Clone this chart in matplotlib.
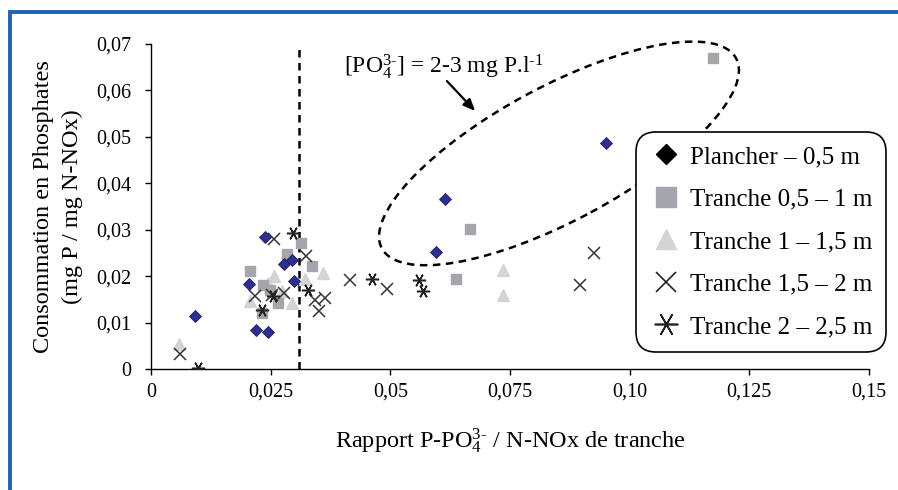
import matplotlib
matplotlib.use("Agg")
import matplotlib.pyplot as plt
from matplotlib.lines import Line2D
from matplotlib.patches import Ellipse, Rectangle
from matplotlib.ticker import FixedLocator

plt.rcParams['font.family'] = ['Liberation Serif', 'DejaVu Serif']
plt.rcParams['mathtext.default'] = 'regular'

# ---- data ----
plancher_x = [0.0092, 0.0204, 0.0219, 0.0238, 0.0244, 0.0277, 0.0294, 0.0299, 0.0596, 0.0615, 0.0951]
plancher_y = [0.0115, 0.0183, 0.0083, 0.0284, 0.0079, 0.0227, 0.0235, 0.0189, 0.0253, 0.0367, 0.0486]

t05_x = [0.0206, 0.0232, 0.0235, 0.0249, 0.0266, 0.0284, 0.0314, 0.0336, 0.0638, 0.0666, 0.1175]
t05_y = [0.0211, 0.0121, 0.0182, 0.0171, 0.0142, 0.0247, 0.0272, 0.0221, 0.0194, 0.0302, 0.0669]

t1_x = [0.0059, 0.0207, 0.0245, 0.0256, 0.0274, 0.0294, 0.0322, 0.0359, 0.0736, 0.0736]
t1_y = [0.0054, 0.0146, 0.0186, 0.0200, 0.0167, 0.0142, 0.0193, 0.0207, 0.0213, 0.0160]

t15_x = [0.0061, 0.0218, 0.0253, 0.0256, 0.0277, 0.0324, 0.0343, 0.0350, 0.0364, 0.0416, 0.0493, 0.0896, 0.0925]
t15_y = [0.0032, 0.0157, 0.0160, 0.0279, 0.0164, 0.0243, 0.0149, 0.0126, 0.0152, 0.0191, 0.0173, 0.0182, 0.0250]

t2_x = [0.0098, 0.0232, 0.0255, 0.0296, 0.0328, 0.0462, 0.0559, 0.0568]
t2_y = [0.0002, 0.0128, 0.0158, 0.0294, 0.0171, 0.0193, 0.0191, 0.0167]

labels = ["Plancher – 0,5 m", "Tranche 0,5 – 1 m", "Tranche 1 – 1,5 m",
          "Tranche 1,5 – 2 m", "Tranche 2 – 2,5 m"]
x_ticks = [0, 0.025, 0.05, 0.075, 0.10, 0.125, 0.15]
x_ticklabels = ["0", "0,025", "0,05", "0,075", "0,10", "0,125", "0,15"]
y_ticks = [0, 0.01, 0.02, 0.03, 0.04, 0.05, 0.06, 0.07]
y_ticklabels = ["0", "0,01", "0,02", "0,03", "0,04", "0,05", "0,06", "0,07"]
threshold_x = 0.031

W, H = 898, 490
fig = plt.figure(figsize=(W / 100, H / 100), dpi=100)
ax = fig.add_axes([151 / W, 1 - 369 / H, (869 - 151) / W, (369 - 44) / H])

navy = '#2e308f'
sq_col = '#a4a6ac'
tri_col = '#d3d4d6'

ax.plot(t1_x, t1_y, linestyle='none', marker='^', ms=8.5, color=tri_col, mec=tri_col, zorder=3)
ax.plot(t05_x, t05_y, linestyle='none', marker='s', ms=7, color=sq_col, mec=sq_col, zorder=3)
ax.plot(t15_x, t15_y, linestyle='none', marker='x', ms=8.5, mew=1.1, color='#333333', zorder=4)
ax.plot(t2_x, t2_y, linestyle='none', marker=(6, 2, 90), ms=9.5, mew=1.1, color='#222222', zorder=4)
ax.plot(plancher_x, plancher_y, linestyle='none', marker='D', ms=5.8, color=navy, mec='#1c1d5e', mew=0.6, zorder=5)

ax.plot([threshold_x, threshold_x], [0, 0.07], linestyle=(0, (3, 2.2)), color='black', lw=1.8, zorder=2)

ax.set_xlim(0, 0.15)
ax.set_ylim(0, 0.07)
ax.xaxis.set_major_locator(FixedLocator(x_ticks))
ax.yaxis.set_major_locator(FixedLocator(y_ticks))
ax.set_xticklabels(x_ticklabels)
ax.set_yticklabels(y_ticklabels)
for s in ['top', 'right']:
    ax.spines[s].set_visible(False)
for s in ['left', 'bottom']:
    ax.spines[s].set_linewidth(1.0)
ax.tick_params(axis='both', direction='out', length=4, width=1, labelsize=14.5)
ax.tick_params(axis='y', pad=10)
ax.tick_params(axis='x', pad=6)

ax.set_xlabel("Rapport P-PO$_4^{3\u2010}$ / N-NOx de tranche", fontsize=17.5, labelpad=18)
ax.set_ylabel("Consommation en Phosphates\n(mg P / mg N-NOx)", fontsize=17.5, labelpad=10, linespacing=1.45)

# annotation
fig.text(344 / W, 1 - 73 / H, "[PO$_4^{3\u2010}$] = 2-3 mg P.l$^{\u20101}$", fontsize=17, ha='left', va='baseline')
ax.annotate("", xy=(477, H - 113), xycoords='figure pixels', xytext=(445, H - 79), textcoords='figure pixels',
            arrowprops=dict(arrowstyle='-|>,head_length=0.7,head_width=0.3', color='black', lw=1.6))
ell = Ellipse((5.59, (H - 153.4) / 100), 4.02, 1.34, angle=28.2, transform=fig.dpi_scale_trans,
              fill=False, linestyle=(0, (3, 2.2)), lw=1.8, edgecolor='black', zorder=6)
fig.patches.append(ell)

# legend
handles = [
    Line2D([], [], linestyle='none', marker='D', ms=10, color='black'),
    Line2D([], [], linestyle='none', marker='s', ms=14, color=sq_col),
    Line2D([], [], linestyle='none', marker='^', ms=15, color=tri_col),
    Line2D([], [], linestyle='none', marker='x', ms=15, mew=1.2, color='#222222'),
    Line2D([], [], linestyle='none', marker=(6, 2, 90), ms=17, mew=1.2, color='#222222'),
]
leg = fig.legend(handles, labels, loc='upper left', bbox_to_anchor=(636 / W, 1 - 132 / H),
                 bbox_transform=fig.transFigure, fontsize=18, frameon=True, fancybox=True,
                 borderaxespad=0, borderpad=0.55, labelspacing=0.8, handlelength=1.3,
                 handletextpad=0.3, edgecolor='black', framealpha=1)
leg.get_frame().set_linewidth(1.2)
leg.get_frame().set_boxstyle('round', pad=0, rounding_size=0.8)
leg.set_zorder(10)

# blue border
fig.patches.append(Rectangle((10 / W, -0.1), 1.2, (H - 12) / H + 0.1, transform=fig.transFigure,
                             fill=False, edgecolor='#1c64b4', lw=2.8))

fig.savefig('out.png', dpi=100)
